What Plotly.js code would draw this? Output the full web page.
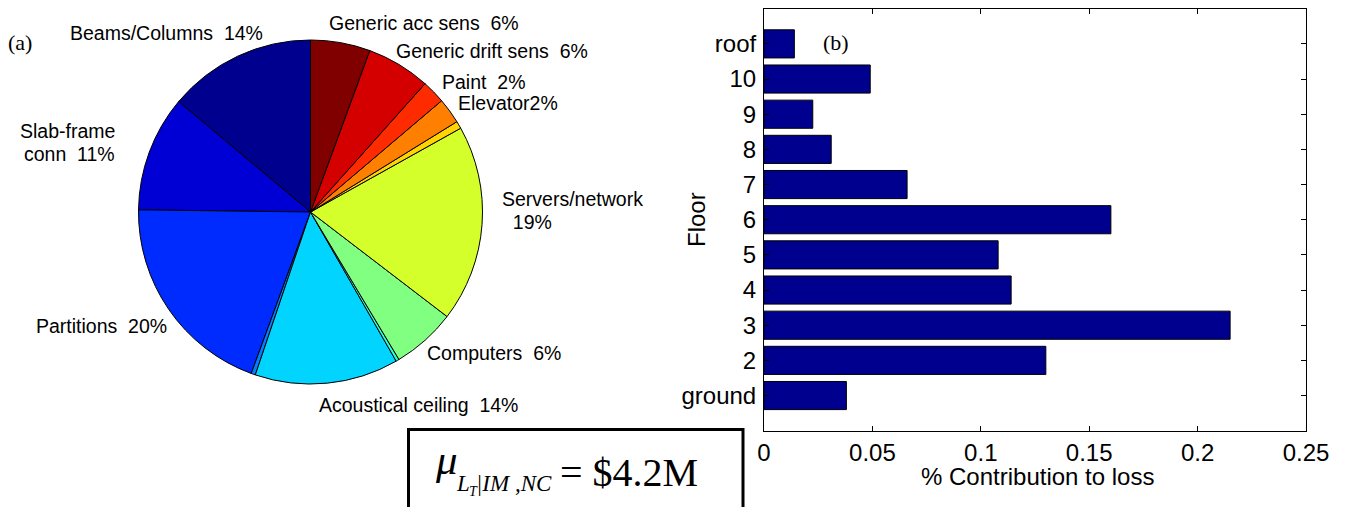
<!DOCTYPE html>
<html>
<head>
<meta charset="utf-8">
<script src="https://cdn.plot.ly/plotly-3.0.1.min.js"></script>
<style>
  html, body { margin: 0; padding: 0; background: #fff; }
  #chart { width: 1345px; height: 507px; }
</style>
</head>
<body>
<div id="chart"></div>
<script>
// ---------- DATA ----------
// (a) pie: loss contribution by component group (percent), counter-clockwise from 12 o'clock
const pieNames = ['Beams/Columns', 'Slab-frame conn', 'Partitions', 'Other A', 'Acoustical ceiling',
                  'Other B', 'Computers', 'Servers/network', 'Other C', 'Elevator', 'Paint',
                  'Generic drift sens', 'Generic acc sens'];
const pieValues = [13.9, 10.9, 19.6, 0.4, 13.5, 0.3, 6.0, 18.5, 0.7, 2.4, 2.2, 6.0, 5.6];
const pieLabelText = ['Beams/Columns  14%', 'Slab-frame\nconn  11%', 'Partitions  20%', '',
                      'Acoustical ceiling  14%', '', 'Computers  6%', 'Servers/network\n  19%', '',
                      'Elevator2%', 'Paint  2%', 'Generic drift sens  6%', 'Generic acc sens  6%'];

// (b) bar: contribution to loss by floor
const floors = ['ground', '2', '3', '4', '5', '6', '7', '8', '9', '10', 'roof'];
const floorLoss = [0.038, 0.130, 0.215, 0.114, 0.108, 0.160, 0.066, 0.031, 0.0225, 0.049, 0.014];
const xTicks = [0, 0.05, 0.1, 0.15, 0.2, 0.25];
const xTickText = ['0', '0.05', '0.1', '0.15', '0.2', '0.25'];

// ---------- STYLE ----------
const W = 1345, H = 507;
const SANS = 'Liberation Sans, Arial, Helvetica, sans-serif';
const SERIF = 'Liberation Serif, Times New Roman, serif';
const pieColors = ['#00008F', '#0000D4', '#002BFF', '#0080FF', '#00D4FF', '#2BFFD4', '#80FF80',
                   '#D4FF2B', '#FFD400', '#FF8000', '#FF2B00', '#D40000', '#800000'];
// label placement for each pie label (pixel anchor, side)
const pieLabelPos = [
  {x: 263.5, y: 33, a: 'right'},
  {x: 116, y: 131, a: 'right'},
  {x: 167.5, y: 326, a: 'right'},
  null,
  {x: 317.5, y: 404.5, a: 'left'},
  null,
  {x: 426, y: 352.5, a: 'left'},
  {x: 501, y: 199, a: 'left'},
  null,
  {x: 456.5, y: 102.5, a: 'left'},
  {x: 440.5, y: 81.5, a: 'left'},
  {x: 394.5, y: 51, a: 'left'},
  {x: 328, y: 22.5, a: 'left'}
];
const LINE_GAP = 23;

const px = x => x / W;
const py = y => 1 - y / H;

const annotations = [];
pieLabelText.forEach((t, i) => {
  const p = pieLabelPos[i];
  if (!t || !p) return;
  t.split('\n').forEach((line, k) => {
    annotations.push({
      text: line, xref: 'paper', yref: 'paper', x: px(p.x), y: py(p.y + k * LINE_GAP),
      xanchor: p.a, yanchor: 'middle', showarrow: false, borderpad: 0,
      font: {family: SANS, size: 19.5, color: '#000'}
    });
  });
});

function txt(text, x, y, size, family, xanchor) {
  annotations.push({
    text: text, xref: 'paper', yref: 'paper', x: px(x), y: py(y),
    xanchor: xanchor || 'left', yanchor: 'middle', showarrow: false, borderpad: 0,
    font: {family: family, size: size, color: '#000'}
  });
}
// panel tags
txt('(a)', 20, 43, 22, SERIF, 'center');
txt('(b)', 836, 43, 22, SERIF, 'center');
// axis titles
txt('% Contribution to loss', 1037, 476, 24, SANS, 'center');
annotations.push({
  text: 'Floor', xref: 'paper', yref: 'paper', x: px(696), y: py(220), textangle: -90,
  xanchor: 'center', yanchor: 'middle', showarrow: false, borderpad: 0,
  font: {family: SANS, size: 24, color: '#000'}
});
// equation in box
txt('<i>μ</i>', 434, 459, 43, SERIF);
txt('<i>L</i>', 455, 483.5, 23, SERIF);
txt('<i>T</i>', 467.5, 491, 14, SERIF);
txt('<i>|IM ,NC</i>', 475, 483.5, 23, SERIF);
txt('= $4.2M', 559, 472.5, 40, SERIF);

// Plotly's counter-clockwise pies end the first slice at the rotation angle,
// so rotate back by the first slice's angle to make it start at 12 o'clock.
const pieTotal = pieValues.reduce((a, b) => a + b, 0);
const pieRotation = -pieValues[0] / pieTotal * 360;

const pieTrace = {
  type: 'pie',
  labels: pieNames,
  values: pieValues,
  sort: false,
  direction: 'counterclockwise',
  rotation: pieRotation,
  textinfo: 'none',
  hoverinfo: 'none',
  marker: {colors: pieColors, line: {color: '#000', width: 1}},
  domain: {x: [px(138.5), px(482.5)], y: [py(384), py(40)]},
  showlegend: false
};

const barTrace = {
  type: 'bar',
  orientation: 'h',
  x: floorLoss,
  y: floors,
  width: 0.8,
  marker: {color: '#00008F', line: {color: '#000', width: 1}},
  hoverinfo: 'none',
  xaxis: 'x', yaxis: 'y',
  showlegend: false
};

const layout = {
  width: W, height: H,
  margin: {l: 0, r: 0, t: 0, b: 0},
  paper_bgcolor: '#fff', plot_bgcolor: '#fff',
  showlegend: false,
  xaxis: {
    domain: [px(764), px(1306)], range: [0, 0.25],
    tickvals: xTicks, ticktext: xTickText,
    ticks: 'inside', ticklen: 5, tickcolor: '#000', tickwidth: 1,
    showline: true, linecolor: '#000', linewidth: 1, mirror: 'ticks',
    showgrid: false, zeroline: false, fixedrange: true,
    tickfont: {family: SANS, size: 24, color: '#000'}
  },
  yaxis: {
    domain: [py(430.7), py(8.7)], type: 'category', categoryorder: 'array', categoryarray: floors,
    range: [-1, 11],
    ticks: 'inside', ticklen: 5, tickcolor: '#000', tickwidth: 1,
    showline: true, linecolor: '#000', linewidth: 1, mirror: 'ticks',
    showgrid: false, zeroline: false, fixedrange: true,
    tickfont: {family: SANS, size: 24, color: '#000'},
    ticklabelstandoff: 2
  },
  shapes: [{
    type: 'rect', xref: 'paper', yref: 'paper',
    x0: px(408.5), x1: px(743), y0: py(520), y1: py(429.5),
    line: {color: '#000', width: 3}, fillcolor: 'rgba(0,0,0,0)'
  }],
  annotations: annotations
};

Plotly.newPlot('chart', [pieTrace, barTrace], layout, {displayModeBar: false, staticPlot: true});
</script>
</body>
</html>
